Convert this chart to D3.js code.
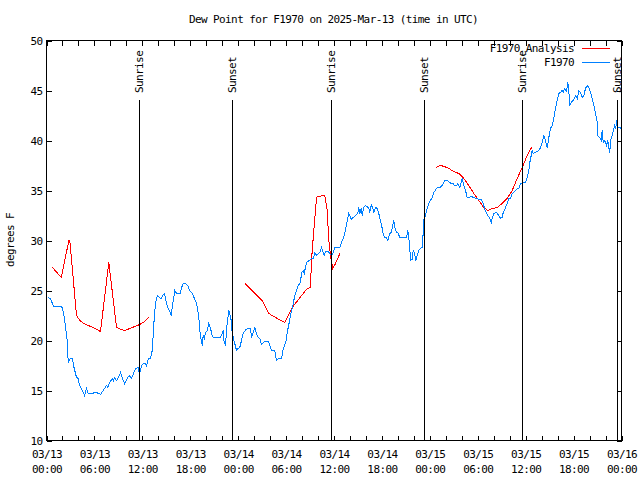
<!DOCTYPE html>
<html><head><meta charset="utf-8">
<script src="https://cdn.jsdelivr.net/npm/d3@7"></script>
<style>
body{margin:0;background:#fff}
svg text{font-family:"DejaVu Sans Mono",monospace;font-size:11px;letter-spacing:-0.6px;fill:#000}
</style></head><body>
<script>
// ---------- data ----------
const chartTitle = "Dew Point for F1970 on 2025-Mar-13 (time in UTC)";
const yAxisTitle = "degrees F";
const startTime = "2025-03-13T00:00:00Z";
const spanHours = 72;
const yDomain = [10, 50];
const yTicks = [10, 15, 20, 25, 30, 35, 40, 45, 50];
const seriesNames = ["F1970_Analysis", "F1970"];
const seriesColors = ["#ff0000", "#0080ff"];

// [hours since start, degrees F]
const observedF1970 = [[0.21,24.3],[0.5,24.2],[0.88,23.4],[1.88,23.4],[2.0,23.2],[2.25,22.2],[2.59,20.0],[2.72,17.8],[3.0,18.2],[3.26,18.2],[3.38,17.5],[3.76,16.3],[3.97,16.2],[4.13,15.5],[4.51,15.0],[4.76,14.5],[5.01,15.2],[5.22,14.7],[5.63,14.7],[6.14,14.8],[6.64,14.7],[6.76,14.6],[7.1,15.0],[7.51,15.5],[7.7,15.3],[7.89,15.8],[8.26,16.2],[8.39,16.0],[8.51,16.3],[8.77,16.0],[9.02,16.3],[9.27,16.8],[9.52,16.2],[9.77,15.7],[10.1,16.2],[10.36,16.5],[10.64,16.2],[10.89,16.7],[11.14,17.2],[11.48,17.3],[11.65,16.6],[11.9,17.5],[12.15,17.7],[12.4,17.7],[12.52,17.5],[12.77,18.2],[13.02,18.2],[13.24,19.0],[13.4,21.0],[13.52,22.7],[13.77,24.3],[13.94,24.5],[14.15,24.3],[14.36,24.2],[14.53,24.5],[14.78,24.7],[15.03,23.7],[15.19,23.3],[15.4,23.0],[15.61,22.5],[15.74,23.3],[15.87,24.0],[16.07,25.0],[16.28,24.7],[16.78,24.7],[16.87,25.2],[17.12,25.7],[17.41,25.7],[17.69,25.5],[17.94,25.0],[18.24,24.7],[18.53,24.2],[18.78,23.7],[18.95,23.0],[19.07,22.3],[19.2,21.0],[19.37,20.0],[19.5,19.5],[19.62,20.5],[19.78,20.2],[19.91,20.8],[20.12,21.0],[20.32,21.7],[20.54,21.2],[20.75,20.5],[20.87,20.3],[21.79,20.3],[22.0,20.7],[22.13,21.0],[22.2,20.0],[22.41,19.5],[22.63,21.8],[22.83,23.0],[22.95,22.7],[23.13,22.0],[23.25,20.8],[23.38,20.3],[23.54,19.8],[23.79,19.0],[23.95,19.2],[24.2,19.3],[24.42,20.0],[24.63,20.7],[24.96,21.1],[25.26,21.2],[25.54,21.2],[25.67,20.3],[25.88,20.8],[26.08,21.3],[26.3,20.7],[26.51,20.3],[26.71,20.2],[26.92,19.6],[27.14,19.8],[27.3,19.9],[27.8,19.9],[27.96,19.5],[28.17,19.0],[28.59,19.0],[28.8,18.0],[29.01,18.2],[29.43,18.2],[29.64,19.2],[29.97,19.8],[30.14,20.8],[30.39,21.8],[30.59,22.7],[30.8,23.3],[31.09,24.5],[31.3,25.0],[31.52,25.5],[31.81,25.8],[31.93,26.8],[32.14,27.0],[32.27,26.7],[32.47,27.5],[32.64,27.9],[32.97,28.0],[33.18,28.2],[33.4,28.2],[33.6,28.8],[33.81,28.5],[34.02,28.7],[34.22,28.8],[34.44,29.3],[34.65,28.8],[34.77,28.5],[34.97,28.9],[35.27,28.9],[35.47,28.7],[35.69,28.5],[35.9,28.8],[36.1,29.3],[36.73,29.3],[36.94,29.8],[37.15,30.2],[37.35,30.7],[37.55,31.5],[37.85,32.7],[37.98,32.5],[38.15,32.1],[38.4,32.3],[38.69,32.5],[38.98,32.7],[39.11,33.3],[39.23,32.7],[39.41,33.2],[39.53,32.5],[39.73,33.3],[39.94,33.5],[40.16,33.4],[40.36,33.2],[40.48,32.8],[40.66,33.6],[40.86,33.2],[40.99,32.8],[41.2,33.3],[41.41,33.2],[41.61,32.7],[41.74,32.2],[41.91,31.7],[42.04,31.2],[42.16,30.7],[42.32,30.3],[42.57,30.3],[42.74,30.0],[42.99,30.7],[43.16,30.8],[43.41,31.7],[43.49,32.0],[43.61,31.3],[43.83,30.8],[43.99,30.8],[44.24,30.3],[45.08,30.3],[45.24,31.0],[45.37,30.3],[45.49,29.2],[45.58,28.0],[45.79,28.1],[45.92,29.0],[46.08,28.7],[46.24,28.0],[46.42,28.5],[46.62,29.0],[46.83,29.2],[47.05,29.3],[47.17,30.8],[47.25,32.1],[47.46,32.5],[47.67,33.2],[47.87,33.7],[48.08,34.0],[48.3,34.3],[48.5,34.8],[48.92,35.3],[49.25,35.3],[49.55,35.5],[49.84,36.0],[50.18,36.0],[50.5,35.8],[50.68,35.7],[50.93,35.7],[51.09,35.5],[51.34,35.5],[51.5,35.7],[51.75,35.3],[51.93,35.8],[52.05,36.2],[52.26,35.5],[52.47,35.0],[52.68,34.3],[52.88,34.3],[53.18,34.4],[53.51,34.3],[53.72,34.2],[54.43,34.1],[54.68,33.7],[54.85,33.2],[55.1,32.7],[55.26,32.5],[55.51,32.2],[55.69,31.8],[55.81,32.2],[56.01,32.7],[56.35,32.8],[56.64,32.5],[56.85,32.2],[57.06,32.3],[57.19,32.8],[57.48,33.3],[57.69,33.7],[57.89,34.2],[58.1,34.2],[58.31,34.7],[58.51,34.8],[58.73,35.0],[58.94,35.2],[59.14,35.2],[59.35,35.7],[59.57,35.7],[59.77,35.8],[59.98,35.8],[60.19,36.3],[60.39,37.0],[60.52,37.8],[60.82,39.0],[60.94,38.7],[61.11,38.8],[61.45,38.9],[61.65,39.0],[61.86,39.3],[62.07,39.8],[62.27,40.5],[62.48,40.0],[62.7,39.3],[62.9,40.3],[63.11,41.2],[63.32,41.5],[63.52,42.2],[63.74,43.2],[63.95,44.0],[64.15,44.7],[64.36,44.8],[64.57,45.0],[64.7,44.8],[64.86,45.2],[65.11,44.9],[65.28,45.8],[65.4,45.0],[65.53,43.5],[65.7,43.8],[65.95,44.0],[66.12,44.2],[66.24,44.5],[66.46,44.2],[66.66,45.0],[66.87,44.8],[67.08,44.3],[67.28,44.5],[67.49,45.2],[67.7,45.5],[67.9,45.3],[68.12,44.8],[68.33,44.2],[68.53,43.5],[68.74,42.8],[68.96,41.8],[69.03,40.5],[69.28,40.3],[69.46,40.0],[69.58,41.0],[69.71,39.8],[69.87,40.0],[70.0,39.8],[70.12,39.5],[70.29,40.0],[70.41,39.3],[70.54,38.8],[70.62,40.0],[70.84,40.5],[70.99,41.0],[71.15,41.5],[71.28,41.2],[71.4,42.0],[71.56,41.3],[71.81,41.3],[71.96,41.2]];

const analysisRun1 = [[0.75,27.3],[1.84,26.3],[2.8,30.0],[2.92,30.0],[3.76,22.5],[4.17,22.0],[4.67,21.7],[5.22,21.5],[5.85,21.3],[6.76,20.9],[7.8,27.8],[8.77,21.3],[9.39,21.1],[9.8,21.0],[10.43,21.2],[11.06,21.4],[11.68,21.6],[12.11,21.8],[12.52,22.1],[12.81,22.3]];
const analysisRun2 = [[24.83,25.7],[27.01,24.0],[27.84,22.7],[28.89,22.2],[29.84,21.8],[30.77,23.3],[32.64,25.2],[33.06,25.3],[33.18,28.0],[33.47,31.0],[33.81,34.2],[33.9,34.4],[34.85,34.5],[35.15,33.0],[35.35,30.0],[35.65,28.0],[35.85,27.2],[36.19,27.7],[36.73,28.7]];
const analysisRun3 = [[48.71,37.3],[49.34,37.5],[49.84,37.4],[50.38,37.2],[51.0,36.9],[51.63,36.7],[52.26,36.2],[52.88,35.5],[53.51,34.7],[54.14,34.0],[54.76,33.3],[55.26,33.0],[55.81,33.2],[56.44,33.3],[57.06,33.7],[57.69,34.2],[58.31,35.0],[58.94,36.2],[59.57,37.3],[60.19,38.5],[60.52,39.0],[60.82,39.4]];

const sunEventNames = ["Sunrise","Sunset","Sunrise","Sunset","Sunrise","Sunset"];
const sunEventTimes = ["2025-03-13T11:41Z","2025-03-13T23:20Z","2025-03-14T11:39Z","2025-03-14T23:20Z","2025-03-15T11:38Z","2025-03-15T23:30Z"];

// ---------- layout ----------
const L = 46, R = 621, T = 40, B = 440;
const t0 = new Date(startTime);
const toDate = h => new Date(t0.getTime() + h * 3600000);

const x = d3.scaleUtc().domain([t0, toDate(spanHours)]).range([L, R]);
const y = d3.scaleLinear().domain(yDomain).range([B, T]);

const svg = d3.select("body").append("svg").attr("width", 640).attr("height", 480);
svg.append("rect").attr("width", 640).attr("height", 480).attr("fill", "#fff");
const g = svg.append("g").attr("transform", "translate(0.5,0.5)").attr("shape-rendering", "crispEdges");

const xTickVals = d3.utcHour.every(2).range(t0, toDate(spanHours + 0.01));
const fmtD = d3.utcFormat("%m/%d"), fmtT = d3.utcFormat("%H:%M");
const isMajor = d => d.getUTCHours() % 6 === 0;

// bottom axis
const xb = g.append("g").attr("transform", `translate(0,${B})`)
  .call(d3.axisBottom(x).tickValues(xTickVals).tickSizeInner(-5).tickSizeOuter(0)
    .tickFormat(d => isMajor(d) ? fmtD(d) : ""));
xb.select(".domain").remove();
xb.selectAll(".tick text").attr("dy", null).attr("y", null).each(function(d) {
  if (!isMajor(d)) return;
  const t = d3.select(this).text(null);
  t.append("tspan").attr("x", 0).attr("y", 17).text(fmtD(d));
  t.append("tspan").attr("x", 0).attr("y", 32).text(fmtT(d));
});

// top axis
const xt = g.append("g").attr("transform", `translate(0,${T})`)
  .call(d3.axisTop(x).tickValues(xTickVals).tickSizeInner(-5).tickSizeOuter(0).tickFormat(""));
xt.select(".domain").remove();

// left axis
const yl = g.append("g").attr("transform", `translate(${L},0)`)
  .call(d3.axisLeft(y).tickValues(yTicks).tickSizeInner(-5).tickSizeOuter(0).tickPadding(4));
yl.select(".domain").remove();

// right axis
const yr = g.append("g").attr("transform", `translate(${R},0)`)
  .call(d3.axisRight(y).tickValues(yTicks).tickSizeInner(-5).tickSizeOuter(0).tickFormat(""));
yr.select(".domain").remove();

// border
g.append("rect").attr("x", L).attr("y", T).attr("width", R - L).attr("height", B - T)
  .attr("fill", "none").attr("stroke", "#000");

// series
const line = d3.line().x(d => x(toDate(d[0]))).y(d => y(d[1]));
[analysisRun1, analysisRun2, analysisRun3].forEach(run => {
  g.append("path").datum(run).attr("d", line).attr("fill", "none")
    .attr("stroke", seriesColors[0]).attr("stroke-width", 1);
});
g.append("path").datum(observedF1970).attr("d", line).attr("fill", "none")
  .attr("stroke", seriesColors[1]).attr("stroke-width", 1);

// sunrise / sunset markers
const events = sunEventNames.map((n, i) => ({ name: n, t: new Date(sunEventTimes[i]) }));
const ev = g.append("g").selectAll("g").data(events).join("g");
ev.append("line")
  .attr("x1", d => Math.round(x(d.t))).attr("x2", d => Math.round(x(d.t)))
  .attr("y1", y(yDomain[0])).attr("y2", y(44.1)).attr("stroke", "#000");
svg.append("g").selectAll("text").data(events).join("text")
  .attr("transform", d => `translate(${Math.round(x(d.t)) + 4},${y(44.7)}) rotate(-90)`)
  .attr("text-anchor", "start").text(d => d.name);

// legend
const leg = svg.append("g");
seriesNames.forEach((n, i) => {
  const ly = 48 + i * 14;
  leg.append("text").attr("x", 574).attr("y", ly + 4).attr("text-anchor", "end").text(n);
  leg.append("line").attr("x1", 582).attr("x2", 610).attr("y1", ly + 0.5).attr("y2", ly + 0.5)
    .attr("stroke", seriesColors[i]).attr("shape-rendering", "crispEdges");
});

// titles
svg.append("text").attr("x", (L + R) / 2).attr("y", 23).attr("text-anchor", "middle").text(chartTitle);
svg.append("text").attr("transform", `translate(14,${(T + B) / 2}) rotate(-90)`)
  .attr("text-anchor", "middle").text(yAxisTitle);
</script>
</body></html>
